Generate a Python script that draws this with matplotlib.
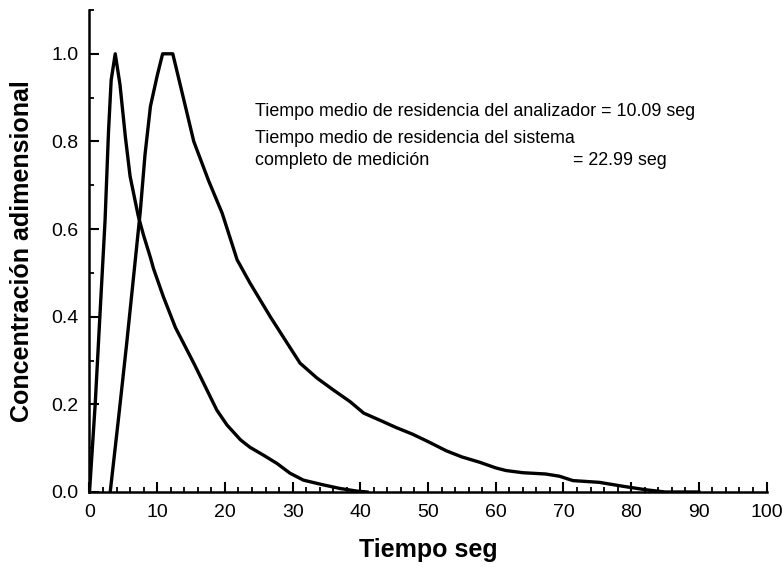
import matplotlib
matplotlib.use("Agg")
import matplotlib.pyplot as plt
from matplotlib.ticker import MultipleLocator

# Analyzer response curve
t_analizador = [0.0, 0.84, 1.6, 2.3, 2.8, 3.2, 3.8, 4.5, 5.3, 6.0, 7.2, 8.0, 9.0, 9.45,
                10.9, 12.7, 14.2, 15.4, 16.8, 18.8, 20.3, 22.3, 23.7, 25.7, 27.7, 29.6,
                31.6, 34.6, 37.0, 39.5, 41.0]
c_analizador = [0.0, 0.20, 0.42, 0.62, 0.82, 0.94, 1.0, 0.93, 0.81, 0.72, 0.63, 0.585,
                0.535, 0.51, 0.446, 0.375, 0.33, 0.294, 0.25, 0.187, 0.153, 0.119, 0.102,
                0.084, 0.065, 0.043, 0.027, 0.016, 0.008, 0.002, 0.0]

# Complete measuring system response curve
t_sistema = [3.06, 4.3, 5.5, 6.5, 7.5, 8.2, 9.0, 10.0, 10.8, 12.3, 13.7, 15.4, 17.6,
             19.6, 21.8, 23.7, 26.7, 29.6, 31.1, 33.6, 36.0, 38.5, 40.5, 43.0, 45.3,
             47.7, 50.0, 52.7, 55.0, 57.6, 60.0, 61.5, 64.0, 67.4, 69.4, 71.4, 75.3,
             78.8, 82.2, 85.0, 90.0]
c_sistema = [0.0, 0.17, 0.34, 0.49, 0.64, 0.77, 0.88, 0.95, 1.0, 1.0, 0.91, 0.80, 0.71,
             0.636, 0.53, 0.477, 0.40, 0.33, 0.294, 0.26, 0.233, 0.206, 0.18, 0.163,
             0.147, 0.132, 0.115, 0.094, 0.08, 0.068, 0.055, 0.049, 0.044, 0.041, 0.036,
             0.026, 0.022, 0.013, 0.005, 0.0, 0.0]

xticks = [0, 10, 20, 30, 40, 50, 60, 70, 80, 90, 100]
yticks = [0.0, 0.2, 0.4, 0.6, 0.8, 1.0]

plt.rcParams['font.family'] = ['Liberation Sans', 'DejaVu Sans']

fig = plt.figure(figsize=(7.83, 5.67), dpi=100)
ax = fig.add_axes([0.1143, 0.1323, 0.979 - 0.1143, 0.9824 - 0.1323])

ax.plot(t_analizador, c_analizador, color='black', lw=2.4, solid_joinstyle='round')
ax.plot(t_sistema, c_sistema, color='black', lw=2.4, solid_joinstyle='round')

ax.set_xlim(0, 100)
ax.set_ylim(0, 1.1)
ax.set_xticks(xticks)
ax.set_yticks(yticks)
ax.set_yticklabels([f"{v:.1f}" for v in yticks])
ax.xaxis.set_minor_locator(MultipleLocator(2))
ax.yaxis.set_minor_locator(MultipleLocator(0.1))
ax.tick_params(which='major', direction='in', length=7, width=1.5, labelsize=14)
ax.tick_params(axis='x', which='major', pad=9)
ax.tick_params(axis='y', which='major', pad=8)
ax.tick_params(which='minor', direction='in', length=3.5, width=1.3)

for s in ['top', 'right']:
    ax.spines[s].set_visible(False)
for s in ['left', 'bottom']:
    ax.spines[s].set_linewidth(1.8)

ax.set_xlabel('Tiempo seg', fontsize=18, fontweight='bold', labelpad=12)
ax.set_ylabel('Concentración adimensional', fontsize=18, fontweight='bold', labelpad=12)

fs = 12.9
ax.text(24.5, 0.857, 'Tiempo medio de residencia del analizador = 10.09 seg', fontsize=fs)
ax.text(24.5, 0.797, 'Tiempo medio de residencia del sistema', fontsize=fs)
ax.text(24.5, 0.747, 'completo de medición', fontsize=fs)
ax.text(71.4, 0.747, '= 22.99 seg', fontsize=fs)

fig.savefig('out.png', dpi=100)
